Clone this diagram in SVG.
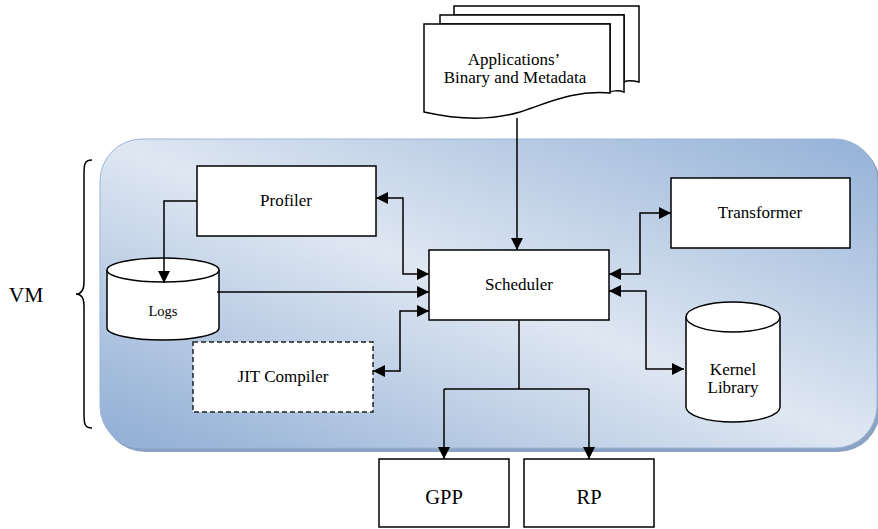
<svg xmlns="http://www.w3.org/2000/svg" width="878" height="529" viewBox="0 0 878 529" font-family="'Liberation Serif', 'Times New Roman', serif">
<style>
text{font-family:'Liberation Serif','Times New Roman',serif;fill:#000;text-anchor:middle}
.box{fill:#fff;stroke:#000;stroke-width:1.5}
.ln{fill:none;stroke:#000;stroke-width:1.5}
.t17{font-size:17px}
.t15{font-size:14.5px}
.big{font-size:20.5px}
</style>
<defs>
<marker id="ah" markerUnits="userSpaceOnUse" markerWidth="12" markerHeight="12" viewBox="0 0 12 12" refX="12" refY="6" orient="auto-start-reverse">
<path d="M0,0 L12,6 L0,12 Z" fill="#000"/>
</marker>
<linearGradient id="vmg" x1="1" y1="0" x2="0" y2="1">
<stop offset="0" stop-color="#93b1d7"/>
<stop offset="0.5" stop-color="#dfe7f2"/>
<stop offset="1" stop-color="#8fadd4"/>
</linearGradient>
</defs>

<g id="vm">
<rect x="103" y="142" width="777" height="310" rx="42" fill="#8ba3c2"/>
<rect x="100" y="139" width="777" height="309" rx="42" fill="url(#vmg)" stroke="#9cb6d8" stroke-width="1"/>
<path class="ln" d="M92,160 C84,160 84,165 84,175 L84,282 C84,290 82,294 76,294 C82,294 84,298 84,306 L84,413 C84,423 84,428 92,428" stroke-width="1.2"/>
<text x="26" y="302" font-size="21.5">VM</text>
</g>

<g id="apps">
<path class="box" d="M454,6 H639 V82 C630,80 626,81 624,82 V15 H454 Z"/>
<path class="box" d="M440,15 H624 V92 C618,90 612,91 610,92 V24 H440 Z"/>
<path class="box" d="M424,24 H610 V93 C575,90 550,102 520,112 C490,121 455,119 424,112 Z"/>
<text class="t17" x="514" y="65">Applications’</text>
<text class="t17" x="515" y="83">Binary and Metadata</text>
</g>

<g id="profiler">
<rect class="box" x="197" y="166" width="179" height="70"/>
<text class="t17" x="286" y="206">Profiler</text>
</g>

<g id="logs">
<path class="box" d="M107,270 V328 A56,12 0 0 0 219,328 V270"/>
<ellipse class="box" cx="163" cy="270" rx="56" ry="12"/>
<text class="t15" x="163" y="316">Logs</text>
</g>

<g id="jit">
<rect x="193" y="342" width="180" height="70" fill="#fff" stroke="#222" stroke-width="1.5" stroke-dasharray="5,3"/>
<text class="t17" x="283" y="382">JIT Compiler</text>
</g>

<g id="scheduler">
<rect class="box" x="429" y="250" width="180" height="70"/>
<text class="t17" x="519" y="290">Scheduler</text>
</g>

<g id="transformer">
<rect class="box" x="671" y="178" width="179" height="70"/>
<text class="t17" x="760" y="218">Transformer</text>
</g>

<g id="kernel">
<path class="box" d="M686,317 V407 A47,15 0 0 0 780,407 V317"/>
<ellipse class="box" cx="733" cy="317" rx="47" ry="15"/>
<text class="t17" x="733" y="375">Kernel</text>
<text class="t17" x="733" y="393">Library</text>
</g>

<g id="gpp">
<rect class="box" x="379" y="459" width="130" height="68"/>
<text class="big" x="444" y="504">GPP</text>
</g>

<g id="rp">
<rect class="box" x="524" y="459" width="130" height="68"/>
<text class="big" x="589" y="504">RP</text>
</g>

<g id="connectors">
<path class="ln" d="M517,118 V250" marker-end="url(#ah)"/>
<path class="ln" d="M197,201 H164 V283" marker-end="url(#ah)"/>
<path class="ln" d="M217,292 H429" marker-end="url(#ah)"/>
<path class="ln" d="M376,198 H403 V274 H429" marker-start="url(#ah)" marker-end="url(#ah)"/>
<path class="ln" d="M373,371 H400 V311 H429" marker-start="url(#ah)" marker-end="url(#ah)"/>
<path class="ln" d="M609,274 H640 V213 H671" marker-start="url(#ah)" marker-end="url(#ah)"/>
<path class="ln" d="M609,291 H646 V369 H684" marker-start="url(#ah)" marker-end="url(#ah)"/>
<path class="ln" d="M519,320 V389"/>
<path class="ln" d="M444,389 H589"/>
<path class="ln" d="M444,389 V459" marker-end="url(#ah)"/>
<path class="ln" d="M589,389 V459" marker-end="url(#ah)"/>
</g>
</svg>
